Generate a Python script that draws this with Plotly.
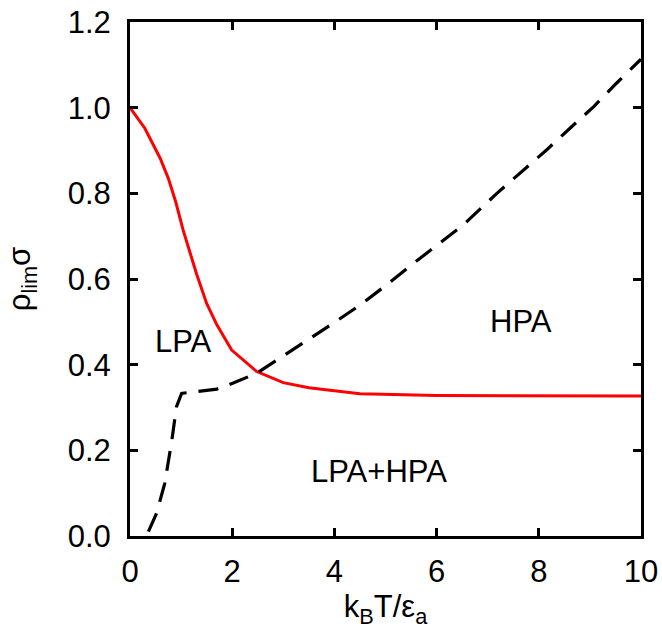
import plotly.graph_objects as go

# Boundary of the low-density phase (red, solid)
lpa_T = [0.0, 0.29, 0.59, 0.75, 0.90, 1.04, 1.30, 1.50, 1.70, 1.99, 2.48, 3.0, 3.5, 4.5, 6.0, 8.0, 10.0]
lpa_rho = [1.0, 0.952, 0.882, 0.835, 0.778, 0.714, 0.613, 0.543, 0.493, 0.434, 0.384, 0.358, 0.346,
           0.332, 0.328, 0.327, 0.327]

# Boundary of the high-density phase (black, dashed)
hpa_T = [0.36, 0.52, 0.68, 0.82, 0.91, 1.01, 1.70, 2.02, 2.48, 3.13, 3.98, 4.50, 5.02, 5.51,
         6.00, 6.52, 7.18, 7.63, 8.15, 8.61, 9.07, 9.52, 10.0]
hpa_rho = [0.01, 0.053, 0.123, 0.224, 0.302, 0.333, 0.343, 0.357, 0.380, 0.430, 0.497, 0.539,
           0.586, 0.633, 0.679, 0.726, 0.800, 0.847, 0.901, 0.952, 1.002, 1.057, 1.113]

# Region labels
region_text = ["LPA", "HPA", "LPA+HPA"]
region_T = [1.05, 7.65, 4.87]
region_rho = [0.454, 0.50, 0.15]

FONT = "Liberation Sans, Arial, Helvetica, sans-serif"
FS = 31

fig = go.Figure()
fig.add_trace(go.Scatter(x=lpa_T, y=lpa_rho, mode="lines",
                         line=dict(color="#ff0000", width=3), showlegend=False))
fig.add_trace(go.Scatter(x=hpa_T, y=hpa_rho, mode="lines",
                         line=dict(color="black", width=3.2, dash="20px,12px"),
                         showlegend=False))

for t, xv, yv in zip(region_text, region_T, region_rho):
    fig.add_annotation(x=xv, y=yv, text=t, showarrow=False,
                       font=dict(family=FONT, size=FS, color="black"),
                       xanchor="center", yanchor="middle")

axis_common = dict(
    showline=True, linecolor="black", linewidth=3, mirror="ticks",
    ticks="inside", ticklen=8, tickwidth=3, tickcolor="black",
    showgrid=False, zeroline=False, automargin=False,
    tickfont=dict(family=FONT, size=FS, color="black"),
)

fig.update_xaxes(range=[0, 10], tickvals=[0, 2, 4, 6, 8, 10], ticklabelstandoff=6,
                 title=dict(text="k<sub>B</sub>T/ε<sub>a</sub>",
                            font=dict(family=FONT, size=FS, color="black"), standoff=10),
                 **axis_common)
fig.update_yaxes(range=[0, 1.2], tickvals=[0, 0.2, 0.4, 0.6, 0.8, 1.0, 1.2],
                 ticktext=["0.0", "0.2", "0.4", "0.6", "0.8", "1.0", "1.2"],
                 ticklabelstandoff=10,
                 title=dict(text="ρ<sub>lim</sub>σ",
                            font=dict(family=FONT, size=FS, color="black"), standoff=28),
                 **axis_common)

fig.update_layout(width=662, height=629,
                  margin=dict(l=130, r=21, t=22, b=93),
                  plot_bgcolor="white", paper_bgcolor="white")

fig.write_html("out.html")
